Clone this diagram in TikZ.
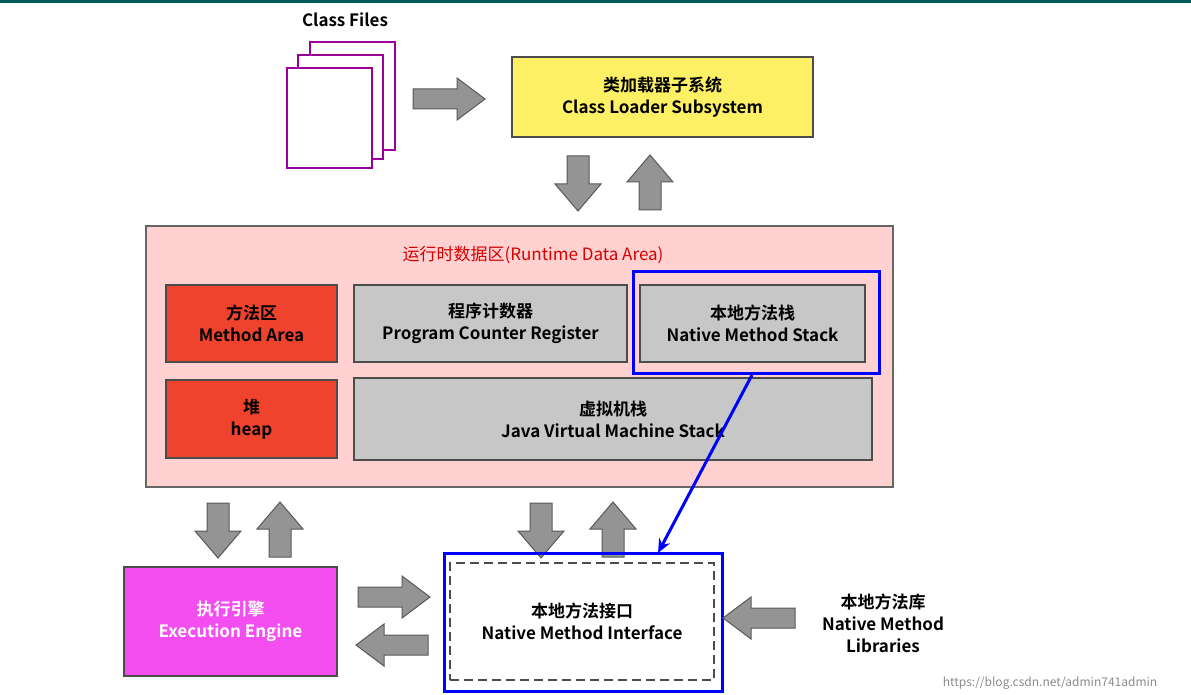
\documentclass[tikz,border=0pt]{standalone}
\usepackage{fontspec}
\setmainfont{Noto Sans CJK SC}[BoldFont={* Bold}]
\usetikzlibrary{arrows.meta,calc}
\definecolor{eng}{HTML}{F44EF0}
\definecolor{redb}{HTML}{F0432E}
\begin{document}
\begin{tikzpicture}[x=1pt,y=-1pt,
  box/.style={draw=black!70,line width=1.2pt,align=center,font=\fontsize{17}{22}\selectfont\bfseries,inner sep=0pt},
  garr/.style={fill=black!42,draw=black!65,line width=1pt,line join=miter},
  page/.style={draw=violet!80!magenta,line width=1.6pt,fill=white},
  pics/rarr/.style={code={\draw[garr] (0,-10)--(44,-10)--(44,-21)--(72,0)--(44,21)--(44,10)--(0,10)--cycle;}},
  pics/larr/.style={code={\draw[garr] (0,-10)--(-44,-10)--(-44,-21)--(-72,0)--(-44,21)--(-44,10)--(0,10)--cycle;}},
  pics/darr/.style={code={\draw[garr] (-11,0)--(11,0)--(11,28)--(23,28)--(0,55)--(-23,28)--(-11,28)--cycle;}},
  pics/uarr/.style={code={\draw[garr] (-11,0)--(11,0)--(11,-28)--(23,-28)--(0,-55)--(-23,-28)--(-11,-28)--cycle;}}]
\useasboundingbox (0,0) rectangle (1191,695);
\fill[white] (0,0) rectangle (1191,695);
\fill[teal!70!black] (0,0) rectangle (1191,3);
% class files
\node[font=\fontsize{17}{20}\selectfont\bfseries] (cf) at (345,20) {Class Files};
\draw[page] (310,42) rectangle (395,150);
\draw[page] (298,55) rectangle (383,159);
\draw[page] (287,68) rectangle (372,168);
\pic at (413,99) {rarr};
\node[box,fill=yellow!90!orange!60,minimum width=301,minimum height=80] (cl) at (662.5,97) {类加载器子系统\\Class Loader Subsystem};
\pic at (578,156) {darr};
\pic at (650,210) {uarr};
% runtime data area
\node[box,draw=black!60,fill=red!18,minimum width=747,minimum height=261] (rda) at (519.5,356.5) {};
\node[text=red!85!black,font=\fontsize{17}{20}\selectfont] (rdat) at (533,255) {运行时数据区(Runtime Data Area)};
\node[box,fill=redb,minimum width=171,minimum height=77] (ma) at (251.5,323.5) {方法区\\Method Area};
\node[box,fill=black!22,minimum width=273,minimum height=77] (pc) at (490.5,323.5) {程序计数器\\Program Counter Register};
\node[box,fill=black!22,minimum width=225,minimum height=77] (nms) at (752.5,323.5) {本地方法栈\\Native Method Stack};
\node[draw=blue,line width=3pt,minimum width=246,minimum height=102,inner sep=0pt] (nmsb) at (756,322) {};
\node[box,fill=redb,minimum width=171,minimum height=78] (heap) at (251.5,419) {堆\\heap};
\node[box,fill=black!22,minimum width=518,minimum height=82] (jvm) at (613,419) {虚拟机栈\\Java Virtual Machine Stack};
\pic at (218,503) {darr};
\pic at (280,557) {uarr};
\pic at (541,503) {darr};
\pic at (613,557) {uarr};
% bottom
\node[box,fill=eng,text=white,minimum width=213,minimum height=109] (ee) at (230.5,621.5) {执行引擎\\Execution Engine};
\pic at (358,597) {rarr};
\pic at (428,645) {larr};
\node[draw=blue,line width=3pt,minimum width=278,minimum height=138,inner sep=0pt] (nmi) at (583,622) {};
\node[box,dashed,dash pattern=on 9pt off 5pt,line width=1.6pt,minimum width=264,minimum height=117] (nmii) at (582,621.5) {本地方法接口\\Native Method Interface};
\pic at (795,618) {larr};
\node[align=center,font=\fontsize{17}{22}\selectfont\bfseries] (lib) at (883,623) {本地方法库\\Native Method\\Libraries};
\coordinate (bs) at (752,375);
\coordinate (be) at (658,553);
\draw[blue,line width=3pt,-{Stealth[length=14pt,width=12pt]}] (bs) -- (be);
\node[text=black!45,font=\fontsize{12}{14}\selectfont] (wm) at (1050,683) {https://blog.csdn.net/admin741admin};
\end{tikzpicture}
\end{document}
